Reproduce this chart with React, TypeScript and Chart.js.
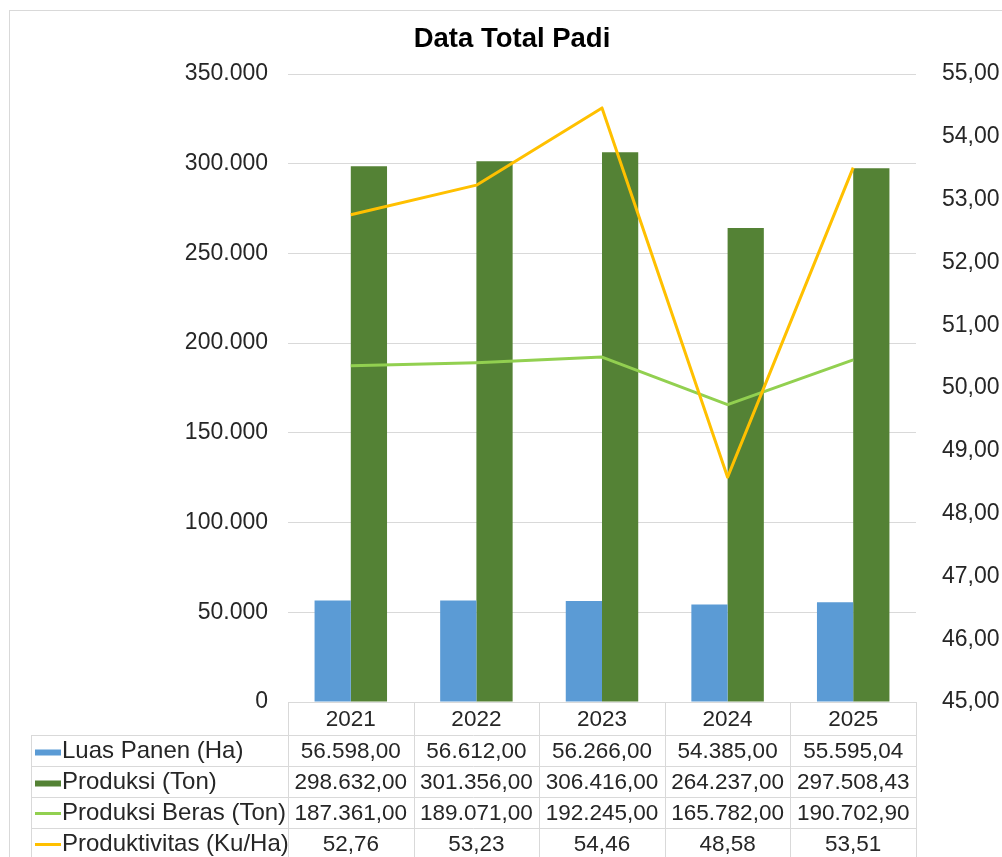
import React, { useEffect, useRef } from "react";
import { Chart, registerables } from "chart.js";

Chart.register(...registerables);

const chartTitle = "Data Total Padi";
const years = ["2021", "2022", "2023", "2024", "2025"];
const seriesNames = [
  "Luas Panen (Ha)",
  "Produksi (Ton)",
  "Produksi Beras (Ton)",
  "Produktivitas (Ku/Ha)",
];
const luasPanen = [56598.0, 56612.0, 56266.0, 54385.0, 55595.04];
const produksi = [298632.0, 301356.0, 306416.0, 264237.0, 297508.43];
const produksiBeras = [187361.0, 189071.0, 192245.0, 165782.0, 190702.9];
const produktivitas = [52.76, 53.23, 54.46, 48.58, 53.51];

const leftMin = 0;
const leftMax = 350000;
const leftStep = 50000;
const rightMin = 45;
const rightMax = 55;
const rightStep = 1;

const COLORS = ["#5B9BD5", "#548235", "#92D050", "#FFC000"];
const FONT = "'Liberation Sans', Arial, sans-serif";
const TEXT = "#262626";
const GRID = "#d9d9d9";

function fmt(v: number, dec: number): string {
  const s = v.toFixed(dec);
  const [ip, fp] = s.split(".");
  const withDots = ip.replace(/\B(?=(\d{3})+(?!\d))/g, ".");
  return fp !== undefined ? withDots + "," + fp : withDots;
}

const tableData = [luasPanen, produksi, produksiBeras, produktivitas];
const seriesKinds = ["bar", "bar", "line", "line"];

const tablePlugin = {
  id: "excelTable",
  afterDraw(chart: any) {
    const ctx = chart.ctx as CanvasRenderingContext2D;
    const area = chart.chartArea;
    const xs = chart.scales.x;
    const n = years.length;
    const colW = (area.right - area.left) / n;
    const headerH = 33;
    const rowH = 31;
    const labelLeft = 31;
    ctx.save();

    // chart border
    ctx.strokeStyle = GRID;
    ctx.lineWidth = 1;
    ctx.strokeRect(9.5, 10.5, chart.width + 20, chart.height + 20);

    // title
    ctx.fillStyle = "#000";
    ctx.font = `bold 27.5px ${FONT}`;
    ctx.textAlign = "center";
    ctx.textBaseline = "alphabetic";
    ctx.fillText(chartTitle, 512, 47);

    const top = area.bottom;
    const headerBottom = top + headerH;
    const bottom = headerBottom + rowH * seriesNames.length;

    // grid lines of table
    ctx.strokeStyle = GRID;
    ctx.lineWidth = 1;
    ctx.beginPath();
    ctx.moveTo(area.left, Math.round(top) + 0.5);
    ctx.lineTo(area.right, Math.round(top) + 0.5);
    for (let r = 0; r <= seriesNames.length; r++) {
      const y = Math.round(headerBottom + r * rowH) + 0.5;
      ctx.moveTo(labelLeft, y);
      ctx.lineTo(area.right, y);
    }
    for (let c = 0; c <= n; c++) {
      const x = Math.round(area.left + c * colW) + 0.5;
      ctx.moveTo(x, top);
      ctx.lineTo(x, bottom);
    }
    ctx.moveTo(labelLeft + 0.5, headerBottom);
    ctx.lineTo(labelLeft + 0.5, bottom);
    ctx.stroke();

    ctx.fillStyle = TEXT;
    ctx.font = `22.5px ${FONT}`;
    ctx.textBaseline = "middle";
    ctx.textAlign = "center";
    for (let c = 0; c < n; c++) {
      const cx = xs.getPixelForValue(c);
      ctx.fillText(years[c], cx, top + headerH / 2 + 1);
    }

    for (let r = 0; r < seriesNames.length; r++) {
      const cy = headerBottom + r * rowH + rowH / 2 + 1;
      // legend key
      if (seriesKinds[r] === "bar") {
        ctx.fillStyle = COLORS[r];
        ctx.fillRect(35, cy - 2, 26, 6);
      } else {
        ctx.strokeStyle = COLORS[r];
        ctx.lineWidth = 3;
        ctx.beginPath();
        ctx.moveTo(35, cy);
        ctx.lineTo(61, cy);
        ctx.stroke();
      }
      ctx.fillStyle = TEXT;
      ctx.textAlign = "left";
      ctx.font = `24px ${FONT}`;
      ctx.fillText(seriesNames[r], 62, cy);
      ctx.textAlign = "center";
      ctx.font = `22.5px ${FONT}`;
      for (let c = 0; c < n; c++) {
        const cx = xs.getPixelForValue(c);
        ctx.fillText(fmt(tableData[r][c], 2), cx, cy);
      }
    }
    ctx.restore();
  },
};

export default function App() {
  const ref = useRef<HTMLCanvasElement | null>(null);
  useEffect(() => {
    if (!ref.current) return;
    const chart = new Chart(ref.current, {
      type: "bar",
      data: {
        labels: years,
        datasets: [
          {
            type: "line",
            label: seriesNames[3],
            data: produktivitas,
            yAxisID: "y1",
            borderColor: COLORS[3],
            backgroundColor: COLORS[3],
            borderWidth: 3,
            pointRadius: 0,
            tension: 0,
            borderJoinStyle: "round",
            order: 0,
          } as any,
          {
            type: "line",
            label: seriesNames[2],
            data: produksiBeras,
            yAxisID: "y",
            borderColor: COLORS[2],
            backgroundColor: COLORS[2],
            borderWidth: 3,
            pointRadius: 0,
            tension: 0,
            borderJoinStyle: "round",
            order: 1,
          } as any,
          {
            type: "bar",
            label: seriesNames[0],
            data: luasPanen,
            yAxisID: "y",
            backgroundColor: COLORS[0],
            barPercentage: 1,
            categoryPercentage: 0.577,
            order: 2,
          },
          {
            type: "bar",
            label: seriesNames[1],
            data: produksi,
            yAxisID: "y",
            backgroundColor: COLORS[1],
            barPercentage: 1,
            categoryPercentage: 0.577,
            order: 3,
          },
        ],
      },
      options: {
        responsive: false,
        animation: false,
        layout: { padding: { top: 74, bottom: 155, left: 0, right: 0 } },
        plugins: {
          legend: { display: false },
          title: { display: false },
          tooltip: { enabled: false },
        },
        scales: {
          x: {
            display: false,
            offset: true,
          },
          y: {
            position: "left",
            min: leftMin,
            max: leftMax,
            border: { display: false },
            grid: { color: GRID, lineWidth: 1, drawTicks: false },
            ticks: {
              stepSize: leftStep,
              padding: 20,
              color: TEXT,
              font: { family: FONT, size: 23 },
              callback: (v: any) => fmt(Number(v), 0),
            },
            afterFit: (s: any) => {
              s.width = 288;
            },
          },
          y1: {
            position: "right",
            min: rightMin,
            max: rightMax,
            border: { display: false },
            grid: { display: false, drawTicks: false },
            ticks: {
              stepSize: rightStep,
              padding: 26,
              color: TEXT,
              font: { family: FONT, size: 23 },
              callback: (v: any) => fmt(Number(v), 2),
            },
            afterFit: (s: any) => {
              s.width = 86;
            },
          },
        },
      },
      plugins: [tablePlugin],
    });
    return () => chart.destroy();
  }, []);
  return (
    <div style={{ position: "absolute", left: 0, top: 0, width: 1002, height: 857, background: "#fff" }}>
      <canvas ref={ref} width={1002} height={857} style={{ display: "block" }} />
    </div>
  );
}
